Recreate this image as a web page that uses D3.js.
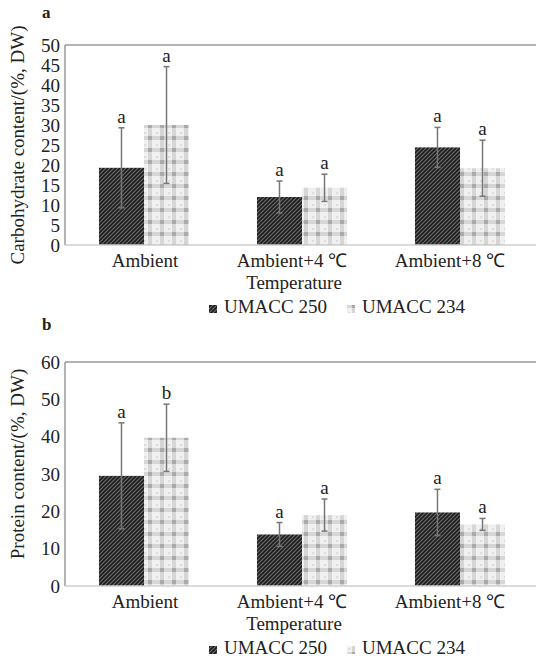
<html>
<head>
<script src="https://d3js.org/d3.v7.min.js"></script>
<style>
	body {margin: 0; background: #fff;}
	text {font-family: "Liberation Serif", "Times New Roman", serif; fill: #222;}
</style>
</head>
<body>
<div id="chart"></div>
<script>
// data
var categories = ["Ambient", "Ambient+4 \u2103", "Ambient+8 \u2103"];
var seriesNames = ["UMACC 250", "UMACC 234"];

var carbMean250 = [19.3, 12.0, 24.4];
var carbErr250 = [10.0, 4.0, 5.0];
var carbMean234 = [30.0, 14.3, 19.2];
var carbErr234 = [14.6, 3.4, 7.0];
var carbLetters250 = ["a", "a", "a"];
var carbLetters234 = ["a", "a", "a"];
var carbTicks = [0, 5, 10, 15, 20, 25, 30, 35, 40, 45, 50];

var protMean250 = [29.5, 13.8, 19.7];
var protErr250 = [14.2, 3.2, 6.2];
var protMean234 = [39.7, 19.0, 16.5];
var protErr234 = [9.0, 4.3, 1.6];
var protLetters250 = ["a", "a", "a"];
var protLetters234 = ["b", "a", "a"];
var protTicks = [0, 10, 20, 30, 40, 50, 60];

var width = 536, height = 667;
var serif = "'Liberation Serif', 'Times New Roman', serif";
var svg = d3.select("#chart").append("svg")
	.attr("width", width)
	.attr("height", height);

// fill patterns for the two strains
var defs = svg.append("defs");
var dark = defs.append("pattern")
	.attr("id", "darkHatch")
	.attr("patternUnits", "userSpaceOnUse")
	.attr("width", 4).attr("height", 4);
dark.append("rect").attr("width", 4).attr("height", 4).attr("fill", "#6a6a6a");
dark.append("path")
	.attr("d", "M-1,1 L1,-1 M0,4 L4,0 M3,5 L5,3")
	.attr("stroke", "#1c1c1c").attr("stroke-width", 1.6);

var light = defs.append("pattern")
	.attr("id", "lightCheck")
	.attr("patternUnits", "userSpaceOnUse")
	.attr("width", 12).attr("height", 12);
light.append("rect").attr("width", 12).attr("height", 12).attr("fill", "#f0f0f0");
light.append("rect").attr("x", 4).attr("width", 4).attr("height", 12).attr("fill", "#d6d6d6");
light.append("rect").attr("y", 4).attr("width", 12).attr("height", 4).attr("fill", "#d6d6d6");
light.append("rect").attr("x", 4).attr("y", 4).attr("width", 4).attr("height", 4).attr("fill", "#aaaaaa");
light.append("rect").attr("x", 0).attr("y", 0).attr("width", 2).attr("height", 2).attr("fill", "#dcdcdc");

var fills = ["url(#darkHatch)", "url(#lightCheck)"];

function label(g, x, y, str, size) {
	return g.append("text")
		.attr("x", x).attr("y", y)
		.style("font-family", serif)
		.style("font-size", (size || 19) + "px")
		.text(str);
}

function drawPanel(opt) {
	var g = svg.append("g");

	var x0 = d3.scaleBand().domain(categories)
		.range([65, 539]).paddingInner(0.43).paddingOuter(0.215);
	var x1 = d3.scaleBand().domain(seriesNames).range([0, x0.bandwidth()]);
	var y = d3.scaleLinear().domain(opt.domain).range([opt.bottom, opt.top]);

	// panel letter
	label(g, 42, opt.letterY, opt.letter, 17).style("font-weight", "bold");

	// frame lines
	g.append("line")
		.attr("x1", 65).attr("x2", 539)
		.attr("y1", y(opt.domain[1])).attr("y2", y(opt.domain[1]))
		.attr("stroke", "#9a9a9a").attr("stroke-width", 1.5);
	g.append("line")
		.attr("x1", 65).attr("x2", 65)
		.attr("y1", y(opt.domain[1])).attr("y2", y(0))
		.attr("stroke", "#9a9a9a").attr("stroke-width", 1.5);

	// y axis labels
	var yAxis = g.append("g")
		.attr("transform", "translate(65,0)")
		.call(d3.axisLeft(y).tickValues(opt.ticks).tickSize(0).tickPadding(5));
	yAxis.select(".domain").remove();
	yAxis.selectAll("text")
		.style("font-size", "19px")
		.style("font-family", serif)
		.attr("fill", "#222");

	// bars
	var series = [
		{mean: opt.m250, err: opt.e250, letters: opt.l250},
		{mean: opt.m234, err: opt.e234, letters: opt.l234}
	];
	series.forEach(function(s, si) {
		categories.forEach(function(c, ci) {
			var bx = x0(c) + x1(seriesNames[si]);
			g.append("rect")
				.attr("x", bx)
				.attr("y", y(s.mean[ci]))
				.attr("width", x1.bandwidth())
				.attr("height", y(0) - y(s.mean[ci]))
				.attr("fill", fills[si]);
		});
	});

	// bottom axis line
	g.append("line")
		.attr("x1", 65).attr("x2", 539)
		.attr("y1", y(0)).attr("y2", y(0))
		.attr("stroke", "#cfcfcf").attr("stroke-width", 1.5);

	// error bars and letters
	series.forEach(function(s, si) {
		categories.forEach(function(c, ci) {
			var cx = x0(c) + x1(seriesNames[si]) + x1.bandwidth() / 2;
			var hi = y(s.mean[ci] + s.err[ci]);
			var lo = y(s.mean[ci] - s.err[ci]);
			g.append("line")
				.attr("x1", cx).attr("x2", cx).attr("y1", hi).attr("y2", lo)
				.attr("stroke", "#777").attr("stroke-width", 1.5);
			[hi, lo].forEach(function(v) {
				g.append("line")
					.attr("x1", cx - 3).attr("x2", cx + 3).attr("y1", v).attr("y2", v)
					.attr("stroke", "#777").attr("stroke-width", 1.5);
			});
			label(g, cx, hi - 5, s.letters[ci]).attr("text-anchor", "middle");
		});
	});

	// category labels (the degree labels sit a little left in the original)
	categories.forEach(function(c, ci) {
		label(g, x0(c) + x0.bandwidth() / 2 + (ci === 0 ? 1 : -10), opt.bottom + 22, c)
			.attr("text-anchor", "middle");
	});
	label(g, 294, opt.bottom + 44, "Temperature").attr("text-anchor", "middle");

	// y title
	label(g, 0, 0, opt.title)
		.attr("transform", "translate(24," + ((opt.top + opt.bottom) / 2 + opt.titleShift) + ") rotate(-90)")
		.attr("text-anchor", "middle");

	// legend
	var lx = [209, 347];
	seriesNames.forEach(function(n, i) {
		g.append("rect")
			.attr("x", lx[i]).attr("y", opt.bottom + 60)
			.attr("width", 8).attr("height", 8)
			.attr("fill", fills[i]);
		label(g, lx[i] + 15, opt.bottom + 68, n);
	});
}

drawPanel({
	letter: "a", letterY: 18, top: 45, bottom: 245, domain: [0, 50], ticks: carbTicks,
	m250: carbMean250, e250: carbErr250, m234: carbMean234, e234: carbErr234,
	l250: carbLetters250, l234: carbLetters234,
	title: "Carbohydrate content/(%, DW)", titleShift: 0
});

drawPanel({
	letter: "b", letterY: 330, top: 362, bottom: 586, domain: [0, 60], ticks: protTicks,
	m250: protMean250, e250: protErr250, m234: protMean234, e234: protErr234,
	l250: protLetters250, l234: protLetters234,
	title: "Protein content/(%, DW)", titleShift: -10
});
</script>
</body>
</html>
